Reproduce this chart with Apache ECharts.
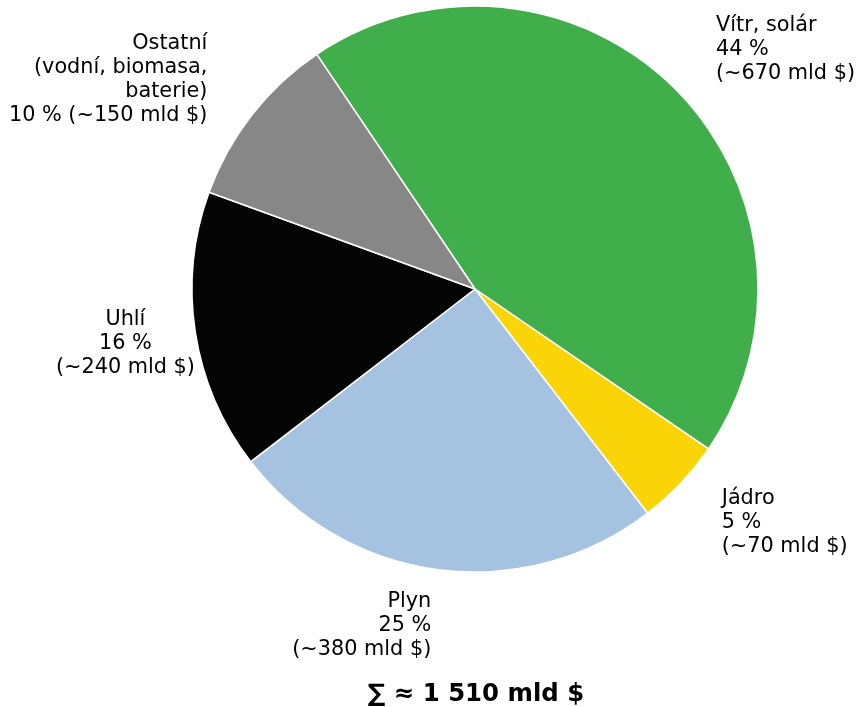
<!DOCTYPE html>
<html>
<head>
<meta charset="utf-8">
<script src="https://cdn.jsdelivr.net/npm/echarts@6/dist/echarts.min.js"></script>
<style>
  html, body { margin: 0; padding: 0; background: #fff; }
  #main { width: 857px; height: 707px; }
</style>
</head>
<body>
<div id="main"></div>
<script>
// data (clockwise from the top-left)
const names = ['Vítr, solár', 'Jádro', 'Plyn', 'Uhlí', 'Ostatní\n(vodní, biomasa,\nbaterie)'];
const shares = [44, 5, 25, 16, 10];
const amounts = [670, 70, 380, 240, 150];
const colors = ['#40ae4b', '#f9d406', '#a6c2e1', '#050505', '#878787'];
const total = '∑ ≈ 1 510 mld $';

// label placement like matplotlib: distance (in radii) and alignment
const labelDist = [1.2, 1.2, 1.2, 1.25, 1.2];
const labelAlign = ['left', 'left', 'right', 'center', 'right'];

const cx = 475, cy = 289, R = 283, start = 124;

let myChart = echarts.init(document.getElementById('main'));

const data = names.map((n, i) => ({
  name: n,
  value: shares[i],
  amount: amounts[i],
  itemStyle: { color: colors[i] }
}));

// mid angle of each slice, from the shares
const sum = shares.reduce((a, b) => a + b, 0);
const midAngle = [];
let acc = 0;
shares.forEach(s => {
  midAngle.push((start - (acc + s / 2) / sum * 360) * Math.PI / 180);
  acc += s;
});

let option = {
  animation: false,
  title: {
    text: total,
    left: cx - 4,
    top: 678,
    textAlign: 'center',
    textStyle: { fontFamily: "'DejaVu Sans'", fontSize: 24.4, fontWeight: 'bold', color: '#000' }
  },
  series: [{
    type: 'pie',
    center: [cx, cy],
    radius: R,
    startAngle: start,
    clockwise: true,
    avoidLabelOverlap: false,
    data: data,
    itemStyle: { borderColor: '#fff', borderWidth: 1.5 },
    label: {
      position: 'outside',
      fontFamily: "'DejaVu Sans'",
      fontSize: 20.8,
      lineHeight: 24,
      color: '#000',
      formatter: function (p) {
        // Ostatní puts % and amount on one line
        if (p.dataIndex === 4) return p.name + '\n' + p.value + ' % (~' + p.data.amount + ' mld $)';
        return p.name + '\n' + p.value + ' %\n(~' + p.data.amount + ' mld $)';
      }
    },
    labelLine: { show: false },
    labelLayout: function (p) {
      const i = p.dataIndex;
      const a = midAngle[i];
      return {
        x: cx + labelDist[i] * R * Math.cos(a),
        y: cy - labelDist[i] * R * Math.sin(a),
        align: labelAlign[i],
        verticalAlign: 'middle'
      };
    },
    emphasis: { disabled: true }
  }]
};
myChart.setOption(option);
</script>
</body>
</html>
